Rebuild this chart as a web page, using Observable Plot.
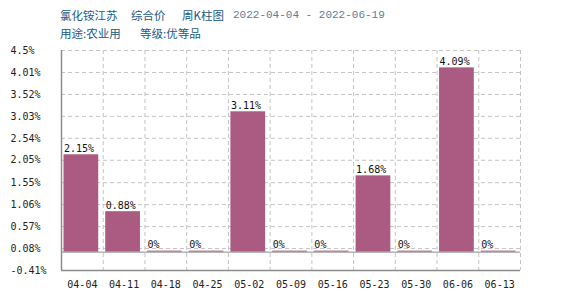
<!DOCTYPE html>
<html><head><meta charset="utf-8">
<script src="https://cdn.jsdelivr.net/npm/d3@7"></script>
<script src="https://cdn.jsdelivr.net/npm/@observablehq/plot@0.6"></script>
<style>
body{margin:0;background:#fff;width:570px;height:300px;overflow:hidden;position:relative;}
.t{position:absolute;font-family:"Noto Sans CJK SC",sans-serif;font-size:11.5px;line-height:14px;color:#1b5a86;white-space:pre;}
.d{position:absolute;font-family:"Liberation Mono",monospace;color:#5a7da0;font-size:11px;line-height:14px;white-space:pre;}
#chart{position:absolute;left:0;top:0;}
</style></head>
<body>
<div class="t" style="top:8px;left:60px">氯化铵江苏</div>
<div class="t" style="top:8px;left:131px">综合价</div>
<div class="t" style="top:8px;left:182px">周K柱图</div>
<div class="d" style="top:8px;left:233px">2022-04-04 - 2022-06-19</div>
<div class="t" style="top:26px;left:60px">用途:农业用</div>
<div class="t" style="top:26px;left:140px">等级:优等品</div>
<div id="chart"></div>
<script>
const categories = ["04-04","04-11","04-18","04-25","05-02","05-09","05-16","05-23","05-30","06-06","06-13"];
const values = [2.15, 0.88, 0, 0, 3.11, 0, 0, 1.68, 0, 4.09, 0];
const yTicks = [-0.41, 0.08, 0.57, 1.06, 1.55, 2.05, 2.54, 3.03, 3.52, 4.01, 4.5];
const barColor = "#ab5a82";
const gridColor = "#c4c4c4";
const axisColor = "#8c8c8c";

const data = categories.map((c, i) => ({c, i, v: values[i]}));
const font = "DejaVu Sans Mono, monospace";

const chart = Plot.plot({
  width: 570, height: 300,
  marginLeft: 61, marginRight: 50, marginTop: 50, marginBottom: 30,
  style: {fontFamily: font, fontSize: "10px", color: "#222", background: "transparent"},
  x: {domain: [-0.5, categories.length - 0.5], axis: null},
  y: {domain: [yTicks[0], yTicks[yTicks.length - 1]], axis: null},
  marks: [
    Plot.ruleY(yTicks, {y: d => d, stroke: gridColor, strokeDasharray: "4,3"}),
    Plot.ruleX(d3.range(categories.length), {x: d => d + 0.5, stroke: gridColor, strokeDasharray: "4,3"}),
    Plot.ruleY([0], {stroke: axisColor}),
    Plot.rectY(data, {x1: d => d.i - 0.5, x2: d => d.i + 0.5, y1: 0, y2: d => d.v, fill: barColor, insetLeft: 2.5, insetRight: 4.5, insetTop: -1}),
    Plot.text(data, {x: d => d.i - 0.5, y: d => d.v, text: d => d.v + "%", textAnchor: "start", dx: 2.5, dy: -7, fill: "#111"}),
    Plot.ruleX([-0.5], {stroke: axisColor, strokeWidth: 1.5}),
    Plot.ruleY([yTicks[0]], {stroke: axisColor, strokeWidth: 1.5}),
    Plot.text(yTicks, {y: d => d, text: d => d + "%", frameAnchor: "left", textAnchor: "start", dx: -51, fill: "#222"}),
    Plot.text(data, {x: d => d.i, text: d => d.c, frameAnchor: "bottom", dy: 17, fill: "#222"})
  ]
});
document.getElementById("chart").appendChild(chart);
</script>
</body></html>
